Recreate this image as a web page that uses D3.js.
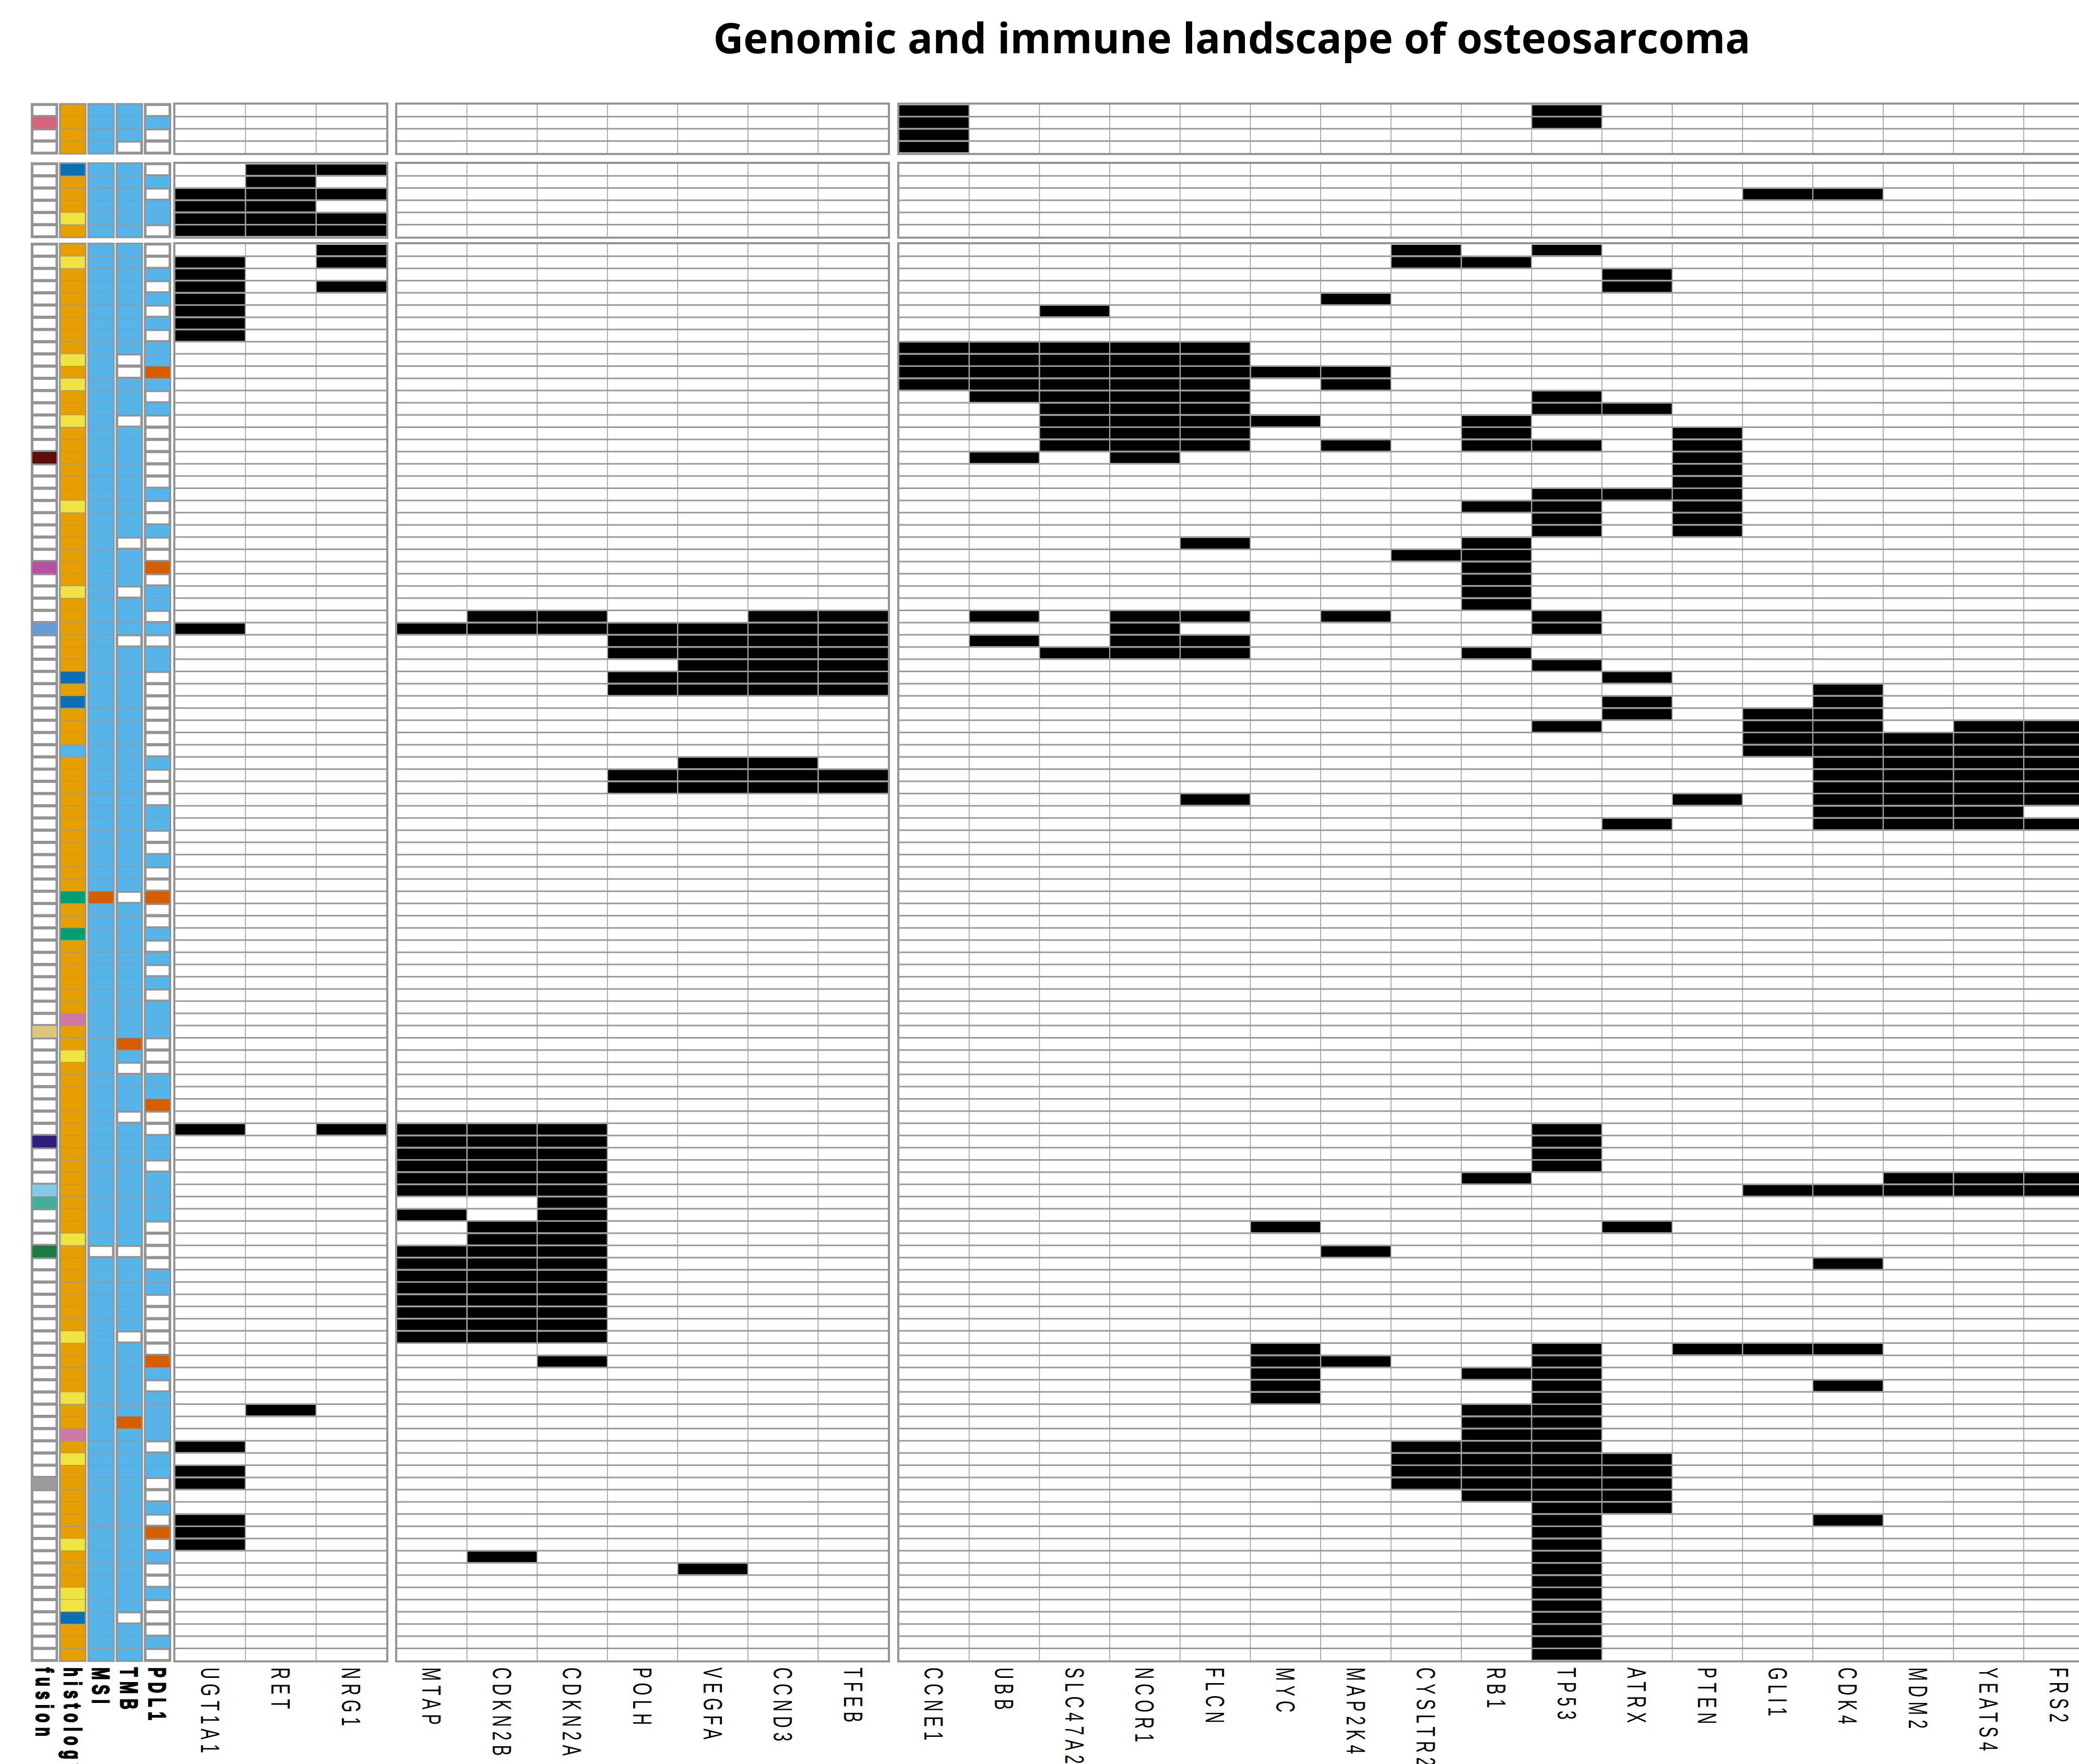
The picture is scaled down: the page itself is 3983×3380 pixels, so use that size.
<!DOCTYPE html>
<html>
<head>
<meta charset="utf-8">
<script src="https://cdn.jsdelivr.net/npm/d3@7"></script>
<style>
  html, body { margin: 0; padding: 0; background: #fff; }
  svg { display: block; }
</style>
</head>
<body>
<svg id="chart"></svg>
<script>
// columns
const annotCols = ["fusion", "histology", "MSI", "TMB", "PDL1"];
const block1 = ["UGT1A1", "RET", "NRG1"];
const block2 = ["MTAP", "CDKN2B", "CDKN2A", "POLH", "VEGFA", "CCND3", "TFEB"];
const block3 = ["CCNE1", "UBB", "SLC47A2", "NCOR1", "FLCN", "MYC", "MAP2K4", "CYSLTR2",
                "RB1", "TP53", "ATRX", "PTEN", "GLI1", "CDK4", "MDM2", "YEATS4", "FRS2"];

const groupSizes = [4, 6, 116];

// annotation tracks, one letter per sample (W = no data / none)
const fusionG1    = "WaWW";
const histologyG1 = "OOOO";
const msiG1       = "BBBB";
const tmbG1       = "BBBW";
const pdl1G1      = "WBWW";

const fusionG2    = "WWWWWW";
const histologyG2 = "DOOOYO";
const msiG2       = "BBBBBB";
const tmbG2       = "BBBBBB";
const pdl1G2      = "WBWBBW";

const fusionG3 = "WWWWWWWWWW" + "WWWWWWWbWW" + "WWWWWWcWWW" + "WdWWWWWWWW" + "WWWWWWWWWW" +
                 "WWWWWWWWWW" + "WWWWeWWWWW" + "WWWfWWWhiW" + "WWjWWWWWWW" + "WWWWWWWWWW" +
                 "WkWWWWWWWW" + "WWWWWW";
const histologyG3 = "OYOOOOOOOY" + "OYOOYOOOOO" + "OYOOOOOOYO" + "OOOOODODOO" + "OLOOOOOOOO" +
                    "OOOGOOGOOO" + "OOOPOOYOOO" + "OOOOOOOOOO" + "OYOOOOOOOY" + "OOOOYOOPOY" +
                    "OOOOOOYOOO" + "YYDOOO";
const msiG3 = "BBBBBBBBBB" + "BBBBBBBBBB" + "BBBBBBBBBB" + "BBBBBBBBBB" + "BBBBBBBBBB" +
              "BBBOBBBBBB" + "BBBBBBBBBB" + "BBBBBBBBBB" + "BBWBBBBBBB" + "BBBBBBBBBB" +
              "BBBBBBBBBB" + "BBBBBB";
const tmbG3 = "BBBBBBBBBW" + "WBBBWBBBBB" + "BBBBWBBBWB" + "BBWBBBBBBB" + "BBBBBBBBBB" +
              "BBBWBBBBBB" + "BBBBBOBWBB" + "BWBBBBBBBB" + "BBWBBBBBBW" + "BBBBBBOBBB" +
              "BBBBBBBBBB" + "BBWBBB";
const pdl1G3 = "WWBWBWBWBB" + "OBWBWWWWWW" + "BWWBWWOWBB" + "WBWBBWWWWW" + "WWBWWWBBWW" +
               "BWWOWWBWBW" + "BWBBBWWWBB" + "OWWBBWBBBB" + "WWWWBBWWWW" + "WOBWBBBBWB" +
               "BWWBWOWBWW" + "BWWWBW";

// altered samples (row index within group) per gene
const hitsG1 = { CCNE1: [0, 1, 2, 3], TP53: [0, 1] };
const hitsG2 = { UGT1A1: [2, 3, 4, 5], RET: [0, 1, 2, 3, 4, 5], NRG1: [0, 2, 4, 5], GLI1: [2], CDK4: [2] };
const hitsG3 = {
  UGT1A1: [1, 2, 3, 4, 5, 6, 7, 31, 72, 98, 100, 101, 104, 105, 106],
  RET: [95],
  NRG1: [0, 1, 3, 72],
  MTAP: [31, 72, 73, 74, 75, 76, 77, 79, 82, 83, 84, 85, 86, 87, 88, 89],
  CDKN2B: [30, 31, 72, 73, 74, 75, 76, 77, 80, 81, 82, 83, 84, 85, 86, 87, 88, 89, 107],
  CDKN2A: [30, 31, 72, 73, 74, 75, 76, 77, 78, 79, 80, 81, 82, 83, 84, 85, 86, 87, 88, 89, 91],
  POLH: [31, 32, 33, 35, 36, 43, 44],
  VEGFA: [31, 32, 33, 34, 35, 36, 42, 43, 44, 108],
  CCND3: [30, 31, 32, 33, 34, 35, 36, 42, 43, 44],
  TFEB: [30, 31, 32, 33, 34, 35, 36, 43, 44],
  CCNE1: [8, 9, 10, 11],
  UBB: [8, 9, 10, 11, 12, 17, 30, 32],
  SLC47A2: [5, 8, 9, 10, 11, 12, 13, 14, 15, 16, 33],
  NCOR1: [8, 9, 10, 11, 12, 13, 14, 15, 16, 17, 30, 31, 32, 33],
  FLCN: [8, 9, 10, 11, 12, 13, 14, 15, 16, 24, 30, 32, 33, 45],
  MYC: [10, 14, 80, 90, 91, 92, 93, 94],
  MAP2K4: [4, 10, 11, 16, 30, 82, 91],
  CYSLTR2: [0, 1, 25, 98, 99, 100, 101],
  RB1: [1, 14, 15, 16, 21, 24, 25, 26, 27, 28, 29, 33, 76, 92, 95, 96, 97, 98, 99, 100, 101, 102],
  TP53: [0, 12, 13, 16, 20, 21, 22, 23, 30, 31, 34, 39, 72, 73, 74, 75, 90, 91, 92, 93, 94, 95,
         96, 97, 98, 99, 100, 101, 102, 103, 104, 105, 106, 107, 108, 109, 110, 111, 112, 113, 114, 115],
  ATRX: [2, 3, 13, 20, 35, 37, 38, 47, 80, 99, 100, 101, 102, 103],
  PTEN: [15, 16, 17, 18, 19, 20, 21, 22, 23, 45, 90],
  GLI1: [38, 39, 40, 41, 77, 90],
  CDK4: [36, 37, 38, 39, 40, 41, 42, 43, 44, 45, 46, 47, 77, 83, 90, 93, 104],
  MDM2: [40, 41, 42, 43, 44, 45, 46, 47, 76, 77],
  YEATS4: [39, 40, 41, 42, 43, 44, 45, 46, 47, 76, 77],
  FRS2: [39, 40, 41, 42, 43, 44, 45, 47, 76, 77]
};

const groups = [
  { n: groupSizes[0], top: 200,   annot: [fusionG1, histologyG1, msiG1, tmbG1, pdl1G1], hits: hitsG1 },
  { n: groupSizes[1], top: 313.5, annot: [fusionG2, histologyG2, msiG2, tmbG2, pdl1G2], hits: hitsG2 },
  { n: groupSizes[2], top: 467.5, annot: [fusionG3, histologyG3, msiG3, tmbG3, pdl1G3], hits: hitsG3 }
];

// colours
const fusionColor = { a: "#d6647c", b: "#5e0d0d", c: "#b94fa0", d: "#6a9bd3", e: "#dcc77c",
                      f: "#2c1f7a", h: "#86c9e6", i: "#45ae98", j: "#1b7a40", k: "#9c9c9c" };
const histColor = { O: "#e69f00", Y: "#f0e442", D: "#0a6fb5", L: "#56b4e9", G: "#009e73", P: "#cc79a7" };
const levelColor = { B: "#56b4e9", O: "#d55e00" };

const width = 3983;
const height = 3380;
const rowH = 23.4;
const gridGray = "#9a9a9a";
const frameGray = "#939393";

const svg = d3.select("#chart")
    .attr("width", width)
    .attr("height", height)
    .attr("viewBox", `0 0 ${width} ${height}`);

svg.append("rect").attr("width", width).attr("height", height).attr("fill", "#fff");

// title
svg.append("text")
    .attr("x", 2360)
    .attr("y", 102)
    .attr("text-anchor", "middle")
    .attr("font-family", "'Open Sans', 'Noto Sans', sans-serif")
    .attr("font-weight", 700)
    .attr("font-size", 80)
    .attr("fill", "#000")
    .text("Genomic and immune landscape of osteosarcoma");

// scales
const annotX = d3.scaleBand().domain(annotCols).range([60, 327]).paddingInner(0.07);
const blocks = [
  { genes: block1, x: d3.scaleBand().domain(block1).range([335, 741]) },
  { genes: block2, x: d3.scaleBand().domain(block2).range([760, 1702]) },
  { genes: block3, x: d3.scaleBand().domain(block3).range([1722, 1722 + 17 * 134.7]) }
];

const g = svg.append("g");

groups.forEach(grp => {
    const y = d3.scaleBand().domain(d3.range(grp.n)).range([grp.top, grp.top + grp.n * rowH]);
    const y0 = grp.top, y1 = grp.top + grp.n * rowH;

    // annotation tracks
    annotCols.forEach((col, ci) => {
        const x0 = annotX(col), bw = annotX.bandwidth();
        g.append("rect")
            .attr("x", x0 - 1).attr("y", y0 - 2.5)
            .attr("width", bw + 2).attr("height", y1 - y0 + 5)
            .attr("fill", frameGray);
        const vals = grp.annot[ci].split("");
        const colorOf = ci === 0 ? fusionColor : ci === 1 ? histColor : levelColor;
        g.selectAll(null)
            .data(vals.map((v, i) => ({ v, i })))
            .enter()
            .append("rect")
            .attr("x", d => d.v === "W" ? x0 + 4 : x0 + 2)
            .attr("y", d => d.v === "W" ? y(d.i) + 3 : y(d.i) + 0.5)
            .attr("width", d => d.v === "W" ? bw - 8 : bw - 4)
            .attr("height", d => d.v === "W" ? rowH - 6 : rowH - 1)
            .attr("fill", d => d.v === "W" ? "#fff" : colorOf[d.v]);
    });

    // gene blocks
    blocks.forEach(b => {
        const bx0 = b.x.range()[0], bx1 = b.x.range()[1], bw = b.x.bandwidth();
        g.append("rect")
            .attr("x", bx0).attr("y", y0)
            .attr("width", bx1 - bx0).attr("height", y1 - y0)
            .attr("fill", "#fff");

        const cells = [];
        b.genes.forEach(gene => (grp.hits[gene] || []).forEach(r => cells.push({ gene, r })));
        g.selectAll(null)
            .data(cells)
            .enter()
            .append("rect")
            .attr("x", d => b.x(d.gene) + 1)
            .attr("y", d => y(d.r) + 1.5)
            .attr("width", bw - 2)
            .attr("height", rowH - 3)
            .attr("fill", "#000");

        // row lines
        g.selectAll(null)
            .data(d3.range(1, grp.n))
            .enter()
            .append("line")
            .attr("x1", bx0).attr("x2", bx1)
            .attr("y1", i => y(i)).attr("y2", i => y(i))
            .attr("stroke", gridGray)
            .attr("stroke-width", 3);

        // gene separators
        g.selectAll(null)
            .data(b.genes.slice(1))
            .enter()
            .append("line")
            .attr("x1", d => b.x(d)).attr("x2", d => b.x(d))
            .attr("y1", y0).attr("y2", y1)
            .attr("stroke", gridGray)
            .attr("stroke-width", 1.6);

        g.append("rect")
            .attr("x", bx0 - 1).attr("y", y0 - 1.5)
            .attr("width", bx1 - bx0 + 2).attr("height", y1 - y0 + 3)
            .attr("fill", "none")
            .attr("stroke", frameGray)
            .attr("stroke-width", 4);
    });
});

// column labels
const labelY = 3195;

g.selectAll(null)
    .data(annotCols)
    .enter()
    .append("text")
    .attr("transform", d => `translate(${annotX(d) + annotX.bandwidth() / 2},${labelY}) rotate(90) scale(0.62,1)`)
    .attr("dy", "0.36em")
    .attr("font-family", "'Liberation Sans', Arial, sans-serif")
    .attr("font-weight", 700)
    .attr("font-size", 46)
    .attr("letter-spacing", 15)
    .attr("fill", "#000")
    .attr("stroke", "#000")
    .attr("stroke-width", 2.5)
    .text(d => d);

blocks.forEach(b => {
    g.selectAll(null)
        .data(b.genes)
        .enter()
        .append("text")
        .attr("transform", d => `translate(${b.x(d) + b.x.bandwidth() / 2},${labelY}) rotate(90) scale(0.62,1)`)
        .attr("dy", "0.36em")
        .attr("font-family", "'Liberation Sans', Arial, sans-serif")
        .attr("font-size", 50)
        .attr("letter-spacing", 14)
        .attr("fill", "#000")
        .text(d => d);
});
</script>
</body>
</html>
